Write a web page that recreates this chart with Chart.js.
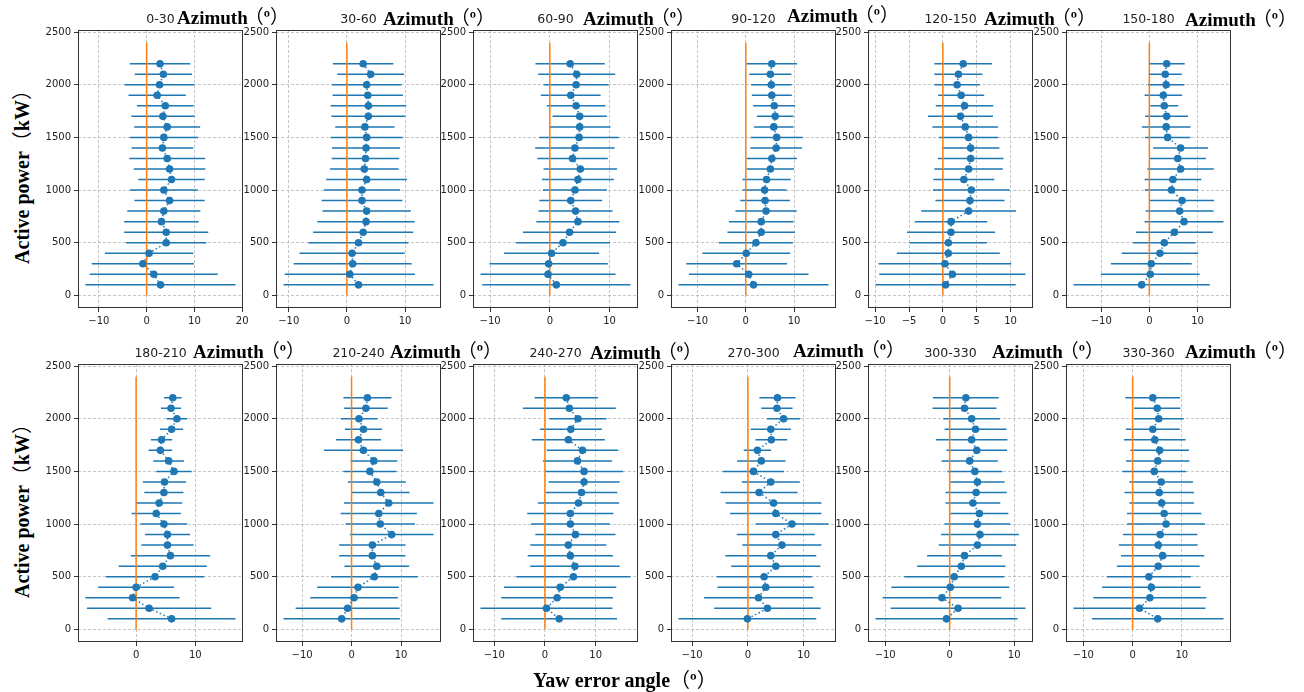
<!DOCTYPE html>
<html><head><meta charset="utf-8">
<script src="https://cdn.jsdelivr.net/npm/chart.js@4.4.0/dist/chart.umd.min.js"></script>
<style>
html,body{margin:0;padding:0;background:#fff;}
#fig{position:relative;width:1304px;height:692px;overflow:hidden;background:#fff;}
canvas{position:absolute;}
.t{position:absolute;white-space:nowrap;line-height:1;}
.lab{font-family:"DejaVu Sans";font-size:12.5px;color:#222;transform:translate(-50%,-50%);}
.az{font-family:"Liberation Serif","Noto Sans CJK SC",serif;font-weight:bold;font-size:19px;color:#000;transform:translateY(-50%);}
.cj{font-family:"Noto Sans CJK SC";font-weight:normal;}
.cj1{margin-left:-3px;}
.big{font-family:"Liberation Serif","Noto Sans CJK SC",serif;font-weight:bold;font-size:20px;color:#000;}
</style></head>
<body><div id="fig"></div>
<script>
// ---------- data ----------
const power = [2200,2100,2000,1900,1800,1700,1600,1500,1400,1300,1200,1100,1000,900,800,700,600,500,400,300,200,100];
const refLinePower = [0, 2400];
const sectors = ['0-30','30-60','60-90','90-120','120-150','150-180','180-210','210-240','240-270','270-300','300-330','330-360'];
const yTicks = [0,500,1000,1500,2000,2500];
const xTickStep = [10,10,10,10,5,10,10,10,10,10,10,10];

const mean_0_30   = [2.8,3.5,2.7,2.2,3.9,3.4,4.3,3.6,3.3,4.3,4.8,5.2,3.6,4.8,3.6,3.1,4.1,4.1,0.5,-0.8,1.5,2.9];
const std_0_30    = [6.35,6.0,7.3,6.0,5.95,6.6,6.9,7.15,6.45,7.95,7.5,6.95,7.1,7.35,7.65,7.8,8.8,8.4,9.25,10.7,13.4,15.7];
const mean_30_60  = [2.8,4.1,3.4,3.6,3.7,3.7,3.1,3.4,3.3,3.2,3.0,3.4,2.6,2.6,3.4,3.3,2.8,2.0,0.9,1.0,0.5,2.0];
const std_30_60   = [5.2,5.75,6.0,6.05,6.5,6.35,5.1,6.2,5.85,5.8,5.9,6.95,6.55,6.95,7.6,8.35,8.6,8.6,9.05,10.15,11.2,12.9];
const mean_60_90  = [3.4,4.5,4.4,3.5,4.4,5.0,5.0,4.9,4.2,3.8,5.1,4.7,4.2,3.5,4.3,4.7,3.3,2.2,0.3,-0.2,-0.3,1.1];
const std_60_90   = [5.8,6.45,5.45,5.0,4.9,4.55,5.15,6.65,6.65,5.9,6.15,6.0,5.35,5.25,6.2,6.95,7.8,7.85,7.95,9.9,11.3,12.4];
const mean_90_120 = [5.4,5.1,5.3,5.4,5.9,6.1,5.8,6.4,6.3,5.4,5.1,4.3,3.9,4.0,4.2,3.2,3.2,2.1,0.1,-1.9,0.6,1.6];
const std_90_120  = [5.25,4.35,4.2,4.15,4.35,3.8,4.1,5.4,5.35,5.2,4.9,5.0,4.55,5.15,6.35,6.7,7.0,7.65,9.1,10.45,12.4,15.55];
const mean_120_150 = [3.0,2.3,2.1,2.7,3.2,2.6,3.3,3.8,4.1,4.1,3.8,3.1,4.2,4.0,3.8,1.2,1.2,0.8,0.8,0.3,1.4,0.4];
const std_120_150  = [4.25,3.55,3.35,3.4,4.25,4.8,4.85,4.35,4.25,4.85,5.05,4.5,5.65,5.1,7.0,5.35,6.5,5.7,7.6,9.8,10.8,10.35];
const mean_150_180 = [3.6,3.3,3.5,2.9,3.1,3.6,3.5,3.8,6.5,5.9,6.5,4.9,4.6,6.8,6.3,7.2,5.2,3.1,2.2,0.4,0.2,-1.6];
const std_150_180  = [3.75,3.45,3.8,3.9,2.9,4.45,5.05,4.7,5.7,5.85,6.9,5.9,5.55,6.65,7.05,8.2,8.0,6.5,7.95,8.4,10.25,14.15];
const mean_180_210 = [6.2,5.9,6.9,6.0,4.3,4.1,5.5,6.4,4.8,4.7,3.9,3.4,4.7,5.3,5.3,5.8,4.5,3.2,0.0,-0.6,2.2,6.0];
const std_180_210  = [1.5,1.7,1.75,1.95,1.8,2.0,2.6,3.0,3.65,3.3,3.9,4.15,3.95,3.8,4.4,6.7,7.45,8.3,6.4,7.95,10.5,10.8];
const mean_210_240 = [3.2,2.9,1.5,2.4,1.4,2.4,4.5,3.7,5.1,5.9,7.5,5.5,5.8,8.1,4.2,4.2,5.1,4.6,1.3,0.5,-0.8,-2.0];
const std_210_240  = [4.85,4.4,3.7,3.75,4.55,8.0,4.75,5.35,5.85,5.8,9.05,7.7,7.0,8.45,6.7,6.7,6.55,8.75,8.25,8.85,10.5,11.75];
const mean_240_270 = [4.2,4.8,6.5,5.1,4.6,7.4,6.4,7.7,7.7,7.2,6.6,5.0,5.0,6.0,4.6,5.0,5.9,5.6,3.0,2.4,0.3,2.8];
const std_240_270  = [6.25,9.15,5.65,6.1,7.2,7.05,6.8,7.7,7.0,7.05,8.0,8.5,7.75,7.9,7.5,8.4,8.8,11.25,11.05,11.0,13.0,11.4];
const mean_270_300 = [5.3,5.2,6.4,4.1,4.2,1.7,2.4,1.0,4.1,2.0,4.6,5.0,7.9,5.0,6.1,4.1,5.0,2.9,3.2,1.9,3.5,-0.1];
const std_270_300  = [3.25,2.8,3.0,3.6,2.85,2.45,4.35,5.5,5.2,6.9,8.6,8.2,6.55,7.0,7.1,8.15,8.0,8.55,8.65,9.75,9.55,12.35];
const mean_300_330 = [2.5,2.3,3.4,4.0,3.4,4.2,3.1,3.9,4.3,4.1,3.6,4.6,4.3,4.7,4.3,2.3,1.8,0.7,0.1,-1.2,1.3,-0.5];
const std_300_330  = [5.1,4.95,4.4,4.8,5.55,4.7,4.35,4.25,4.2,4.75,4.25,4.5,5.1,6.05,6.0,5.8,6.85,7.75,9.15,9.2,10.45,11.0];
const mean_330_360 = [4.1,5.0,5.3,4.1,4.5,5.5,5.1,4.4,5.8,5.4,5.9,6.4,6.8,5.6,5.2,6.1,5.2,3.3,3.8,3.5,1.4,5.1];
const std_330_360  = [5.55,4.7,5.05,5.5,6.25,5.95,6.45,6.45,6.45,7.05,6.55,7.55,7.9,7.55,8.0,8.45,8.4,8.5,10.0,11.45,13.4,13.35];

const means = [mean_0_30,mean_30_60,mean_60_90,mean_90_120,mean_120_150,mean_150_180,
               mean_180_210,mean_210_240,mean_240_270,mean_270_300,mean_300_330,mean_330_360];
const stds  = [std_0_30,std_30_60,std_60_90,std_90_120,std_120_150,std_150_180,
               std_180_210,std_210_240,std_240_270,std_270_300,std_300_330,std_330_360];

// ---------- layout ----------
const PL = [78,276,473,671,868,1066];
const PT = [30,364];
const PW = 165, PH = 278;
const PADL = 40, PADR = 12, PADT = 10, PADB = 24;
const azX = [[177,383,583,787,984,1185],[193,390,590,793,992,1185]];
const azY = [[16,17,17,14,17,18],[350,350,351,349,350,350]];
const labY = [18.5,352.5];

const BLUE = '#1f77b4', ORANGE = '#ff7f0e';
Chart.defaults.font.family = 'DejaVu Sans';
Chart.defaults.font.size = 10;
Chart.defaults.color = '#222';

const fig = document.getElementById('fig');

const framePlugin = {
  id:'frame',
  afterDatasetsDraw(chart){
    const a = chart.chartArea, ctx = chart.ctx;
    ctx.save();
    ctx.strokeStyle = '#333'; ctx.lineWidth = 1;
    ctx.strokeRect(a.left+0.5, a.top+0.5, a.right-a.left-1, a.bottom-a.top-1);
    ctx.restore();
  }
};

function fmt(v){ return String(Math.round(v*1000)/1000).replace('-', '\u2212'); }

for (let k = 0; k < 12; k++) {
  const row = Math.floor(k/6), col = k%6;
  const m = means[k], s = stds[k];
  const bars = [];
  let lo = 0, hi = 0;
  for (let i = 0; i < power.length; i++) {
    const a = m[i]-s[i], b = m[i]+s[i];
    lo = Math.min(lo, a); hi = Math.max(hi, b);
    bars.push({x:a, y:power[i]}, {x:b, y:power[i]}, {x:null, y:null});
  }
  const span = hi - lo;
  const xmin = lo - 0.05*span, xmax = hi + 0.05*span;
  const st = xTickStep[k];
  const xTicks = [];
  for (let v = Math.ceil(xmin/st)*st; v <= xmax + 1e-9; v += st) xTicks.push(v);

  const cv = document.createElement('canvas');
  const W = PW + PADL + PADR, H = PH + PADT + PADB;
  cv.width = W; cv.height = H;
  cv.style.width = W+'px'; cv.style.height = H+'px';
  cv.style.left = (PL[col]-PADL)+'px';
  cv.style.top = (PT[row]-PADT)+'px';
  fig.appendChild(cv);

  new Chart(cv, {
    type:'scatter',
    data:{datasets:[
      {data: power.map((p,i)=>({x:m[i], y:p})), showLine:true, borderColor:BLUE, borderWidth:1.5,
       borderDash:[1.5,2.5], pointRadius:3.8, pointBackgroundColor:BLUE, pointBorderWidth:0, pointHoverRadius:3.8},
      {data: refLinePower.map(p=>({x:0, y:p})), showLine:true, borderColor:ORANGE, borderWidth:1.5, pointRadius:0},
      {data: bars, showLine:true, spanGaps:false, borderColor:BLUE, borderWidth:1.5, pointRadius:0}
    ]},
    options:{
      responsive:false, animation:false, devicePixelRatio:1,
      layout:{padding:{left:0, right:PADR, top:PADT, bottom:0}},
      plugins:{legend:{display:false}, tooltip:{enabled:false}},
      scales:{
        x:{type:'linear', min:xmin, max:xmax,
           afterFit(sc){ sc.height = PADB; },
           afterBuildTicks(sc){ sc.ticks = xTicks.map(v=>({value:v})); },
           ticks:{autoSkip:false, maxRotation:0, padding:3, callback:(v)=>fmt(v)},
           grid:{color:'rgba(176,176,176,0.9)', lineWidth:0.8, tickLength:4, tickColor:'#333', tickWidth:1},
           border:{display:false, dash:[3,2]}},
        y:{type:'linear', min:-120, max:2520,
           afterFit(sc){ sc.width = PADL; },
           afterBuildTicks(sc){ sc.ticks = yTicks.map(v=>({value:v})); },
           ticks:{autoSkip:false, padding:3, callback:(v)=>String(v)},
           grid:{color:'rgba(176,176,176,0.9)', lineWidth:0.8, tickLength:4, tickColor:'#333', tickWidth:1},
           border:{display:false, dash:[3,2]}}
      }
    },
    plugins:[framePlugin]
  });

  const lab = document.createElement('div');
  lab.className = 't lab';
  lab.textContent = sectors[k];
  lab.style.left = (PL[col] + PW/2)+'px';
  lab.style.top = labY[row]+'px';
  fig.appendChild(lab);

  const az = document.createElement('div');
  az.className = 't az';
  az.innerHTML = 'Azimuth<span class="cj cj1">（</span>º<span class="cj">）</span>';
  az.style.left = azX[row][col]+'px';
  az.style.top = azY[row][col]+'px';
  fig.appendChild(az);
}

// axis labels
for (let r = 0; r < 2; r++) {
  const d = document.createElement('div');
  d.className = 't big';
  d.innerHTML = 'Active power<span class="cj">（</span>kW<span class="cj">）</span>';
  d.style.left = '21px';
  d.style.top = (PT[r] + PH/2 + 3) + 'px';
  d.style.transform = 'translate(-50%,-50%) rotate(-90deg)';
  fig.appendChild(d);
}
const xl = document.createElement('div');
xl.className = 't big';
xl.innerHTML = 'Yaw error angle<span class="cj">（</span>º<span class="cj">）</span>';
xl.style.left = '533px';
xl.style.top = '679px';
xl.style.transform = 'translateY(-50%)';
fig.appendChild(xl);
</script>
</body></html>
